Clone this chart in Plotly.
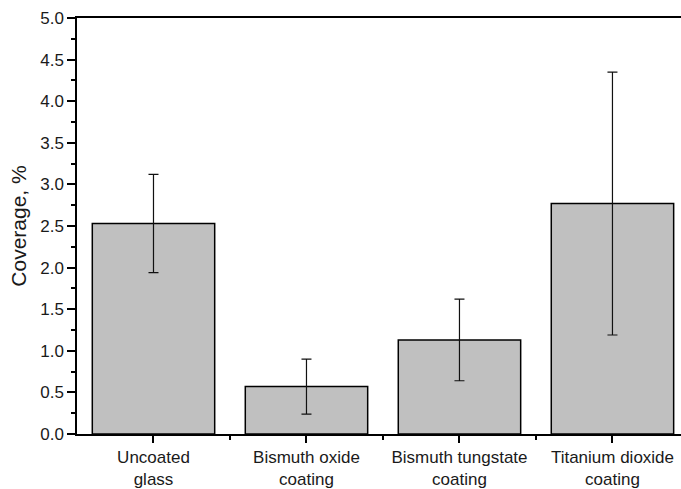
import plotly.graph_objects as go

categories = ["Uncoated<br>glass", "Bismuth oxide<br>coating", "Bismuth tungstate<br>coating", "Titanium dioxide<br>coating"]
coverage = [2.53, 0.57, 1.13, 2.77]
error = [0.59, 0.33, 0.49, 1.58]
x_pos = [0, 1, 2, 3]

fig = go.Figure()
fig.add_trace(go.Bar(
    x=x_pos, y=coverage, width=0.8,
    marker=dict(color="#c0c0c0", line=dict(color="#000000", width=1.5)),
    error_y=dict(type="data", array=error, visible=True, color="#111111", thickness=1.2, width=5),
    showlegend=False,
))

font = "Liberation Sans, Arial, sans-serif"
fig.update_layout(
    width=681, height=489,
    margin=dict(l=77, r=0, t=18, b=55),
    plot_bgcolor="white", paper_bgcolor="white",
    font=dict(family=font, size=17, color="#1a1a1a"),
    xaxis=dict(
        range=[-0.5, 3.448], tickmode="array", tickvals=x_pos, ticktext=categories,
        showline=True, linecolor="black", linewidth=1.5, mirror=True,
        ticks="outside", ticklen=7, tickwidth=1.5, tickcolor="black",
        minor=dict(tickmode="array", tickvals=[0.5, 1.5, 2.5], ticks="outside", ticklen=4, tickwidth=1.5, tickcolor="black"),
        showgrid=False, zeroline=False, tickfont=dict(size=17),
    ),
    yaxis=dict(
        range=[0, 5], tickmode="linear", tick0=0, dtick=0.5, tickformat=".1f",
        showline=True, linecolor="black", linewidth=1.5,
        ticks="outside", ticklen=8, tickwidth=1.5, tickcolor="black",
        minor=dict(tick0=0, dtick=0.25, ticks="outside", ticklen=4, tickwidth=1.5, tickcolor="black"),
        showgrid=False, zeroline=False, tickfont=dict(size=17),
        title=dict(text="Coverage, %", font=dict(size=21), standoff=8),
    ),
    bargap=0.2,
)

fig.write_html("out.html")
